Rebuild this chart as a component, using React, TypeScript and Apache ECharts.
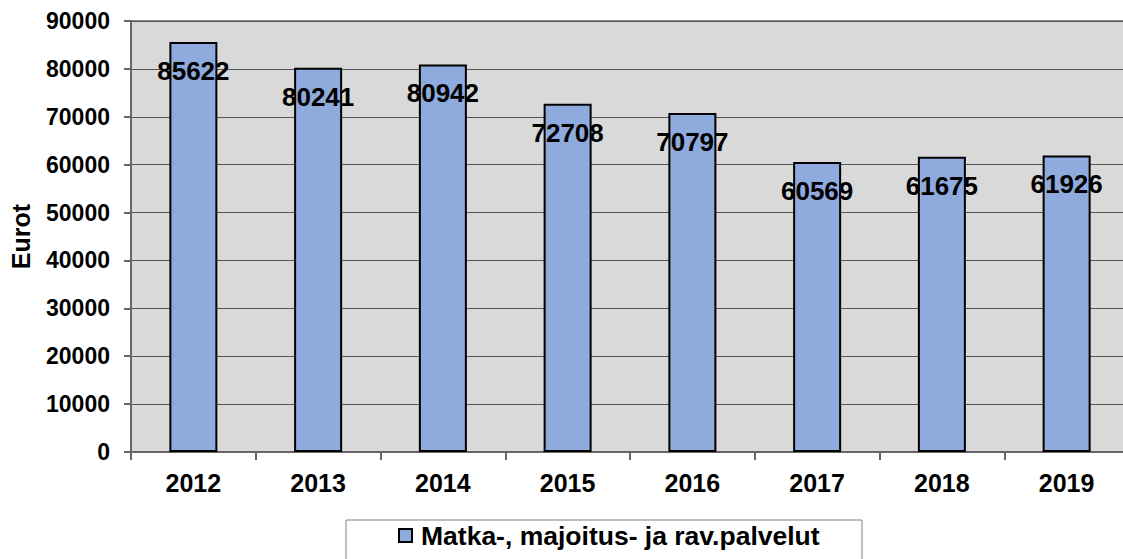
import React, { useEffect, useRef } from "react";
import * as echarts from "echarts";

const categories = ["2012", "2013", "2014", "2015", "2016", "2017", "2018", "2019"];
const values = [85622, 80241, 80942, 72708, 70797, 60569, 61675, 61926];
const seriesName = "Matka-, majoitus- ja rav.palvelut";
const yAxisName = "Eurot";

const FONT = "'Liberation Sans', Arial, sans-serif";

export default function App() {
  const ref = useRef<HTMLDivElement>(null);
  useEffect(() => {
    if (!ref.current) return;
    document.body.style.overflow = "hidden";
    const chart = echarts.init(ref.current, undefined, { renderer: "svg" });
    chart.setOption({
      animation: false,
      backgroundColor: "#ffffff",
      textStyle: { fontFamily: FONT },
      grid: {
        left: 131,
        top: 21,
        width: 998,
        bottom: 107,
        show: true,
        backgroundColor: "#D9D9D9",
        borderColor: "#8c8c8c",
        borderWidth: 2,
        containLabel: false,
      },
      graphic: [
        {
          type: "rect",
          shape: { x: 346, y: 520, width: 516, height: 60 },
          style: { fill: "none", stroke: "#808080", lineWidth: 1 },
          z: 10,
        },
      ],
      legend: {
        left: 398,
        top: 522,
        padding: 0,
        itemWidth: 13,
        itemHeight: 13,
        itemGap: 0,
        icon: "rect",
        textStyle: {
          fontFamily: FONT,
          fontWeight: "bold",
          fontSize: 26.5,
          color: "#000",
          padding: [0, 0, 0, 4],
        },
        data: [seriesName],
      },
      xAxis: {
        type: "category",
        data: categories,
        axisLine: { show: true, lineStyle: { color: "#666", width: 2 } },
        axisTick: { show: true, length: 8, lineStyle: { color: "#666", width: 2 } },
        axisLabel: {
          fontFamily: FONT,
          fontWeight: "bold",
          fontSize: 25,
          color: "#000",
          margin: 18,
        },
      },
      yAxis: {
        type: "value",
        min: 0,
        max: 90000,
        interval: 10000,
        name: yAxisName,
        nameLocation: "middle",
        nameGap: 98,
        nameRotate: 90,
        nameTextStyle: {
          fontFamily: FONT,
          fontWeight: "bold",
          fontSize: 25,
          color: "#000",
        },
        axisLine: { show: true, lineStyle: { color: "#666", width: 2 } },
        axisTick: { show: true, length: 7, lineStyle: { color: "#666", width: 2 } },
        splitLine: { show: true, lineStyle: { color: "#555", width: 1 } },
        axisLabel: {
          fontFamily: FONT,
          fontWeight: "bold",
          fontSize: 23,
          color: "#000",
          margin: 21,
          formatter: (v: number) => String(v),
        },
      },
      series: [
        {
          name: seriesName,
          type: "bar",
          data: values,
          barWidth: 48,
          itemStyle: { color: "#8FAADC", borderColor: "#000", borderWidth: 2 },
          label: {
            show: true,
            position: "insideTop",
            distance: 16,
            fontFamily: FONT,
            fontWeight: "bold",
            fontSize: 26,
            color: "#000",
          },
        },
      ],
    });
    return () => chart.dispose();
  }, []);
  return (
    <div
      ref={ref}
      style={{ position: "fixed", left: 0, top: 0, width: 1140, height: 559 }}
    />
  );
}
